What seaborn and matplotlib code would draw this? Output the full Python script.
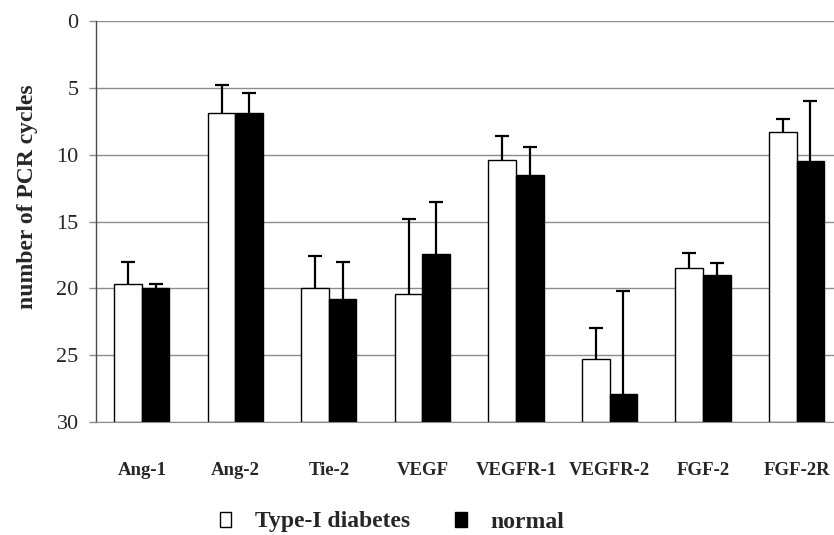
import numpy as np
import pandas as pd
import matplotlib
matplotlib.use("Agg")
import matplotlib.pyplot as plt
import seaborn as sns

genes = ["Ang-1", "Ang-2", "Tie-2", "VEGF", "VEGFR-1", "VEGFR-2", "FGF-2", "FGF-2R"]
groups = ["Type-I diabetes", "normal"]

# mean number of PCR cycles and the (one-sided) error bars
diabetes = [19.7, 6.9, 20.0, 20.4, 10.4, 25.3, 18.5, 8.3]
diabetes_err = [1.7, 2.1, 2.4, 5.6, 1.8, 2.3, 1.15, 1.0]
normal = [20.0, 6.9, 20.8, 17.45, 11.5, 27.9, 19.0, 10.5]
normal_err = [0.3, 1.5, 2.8, 3.9, 2.1, 7.7, 0.9, 4.5]

axis_bottom = 30

df = pd.DataFrame({
    "gene": genes * 2,
    "group": [groups[0]] * len(genes) + [groups[1]] * len(genes),
    "cycles": diabetes + normal,
    "err": diabetes_err + normal_err,
})
# bars grow from 30 up to the value (axis is inverted)
df["height"] = df["cycles"] - axis_bottom

sns.set_style("white")
plt.rcParams["font.family"] = ["Liberation Serif", "DejaVu Serif"]

fig, ax = plt.subplots(figsize=(8.34, 5.35), dpi=100)
fig.subplots_adjust(left=0.1151, right=1.0, bottom=0.2112, top=0.9607)

sns.barplot(data=df, x="gene", y="height", hue="group", hue_order=groups,
            order=genes, palette={groups[0]: "white", groups[1]: "black"},
            errorbar=None, width=0.59, gap=0, edgecolor="black", linewidth=1.0,
            bottom=axis_bottom, legend=False, ax=ax)

# error bars, drawn only towards fewer cycles
bar_sets = list(ax.containers)[:2]
for cont, g in zip(bar_sets, groups):
    sub = df[df["group"] == g].set_index("gene").loc[genes]
    xs = [p.get_x() + p.get_width() / 2 for p in cont.patches]
    vals = sub["cycles"].values
    errs = sub["err"].values
    ax.errorbar(xs, vals, yerr=[errs, np.zeros_like(errs)], fmt="none",
                ecolor="black", elinewidth=1.6, capsize=0, zorder=3)
    ax.plot(xs, vals - errs, ls="none", marker="_", ms=10, mew=1.6,
            color="black", zorder=3)

ax.set_ylim(30, 0)
ax.set_xlim(-0.49, 7.4)
ax.set_yticks([0, 5, 10, 15, 20, 25, 30])
ax.yaxis.grid(True, color="#8c8c8c", lw=1.0)
ax.set_axisbelow(True)

for s in ["top", "right"]:
    ax.spines[s].set_visible(False)
ax.spines["bottom"].set_color("#8c8c8c")
ax.spines["left"].set_color("#4a4a4a")
ax.spines["left"].set_linewidth(1.0)

ax.tick_params(axis="y", length=5, width=1, color="#8c8c8c", pad=7.5,
               labelsize=16, left=True)
ax.tick_params(axis="x", length=0, pad=29)
for lab in ax.get_xticklabels():
    lab.set_fontsize(13.5)
    lab.set_fontweight("bold")

ax.set_xlabel("")
ax.set_ylabel("number of PCR cycles", fontsize=17, fontweight="bold")
ax.yaxis.set_label_coords(-0.0786, 0.562)

handles = [cont.patches[0] for cont in bar_sets]
fig.legend(handles, groups, loc="center", bbox_to_anchor=(392 / 834, 1 - 522 / 535),
           ncol=2, frameon=False, prop={"size": 17, "weight": "bold"},
           handlelength=0.5, handleheight=0.6, handletextpad=1.0, columnspacing=1.9)

fig.savefig("out.png", dpi=100)
